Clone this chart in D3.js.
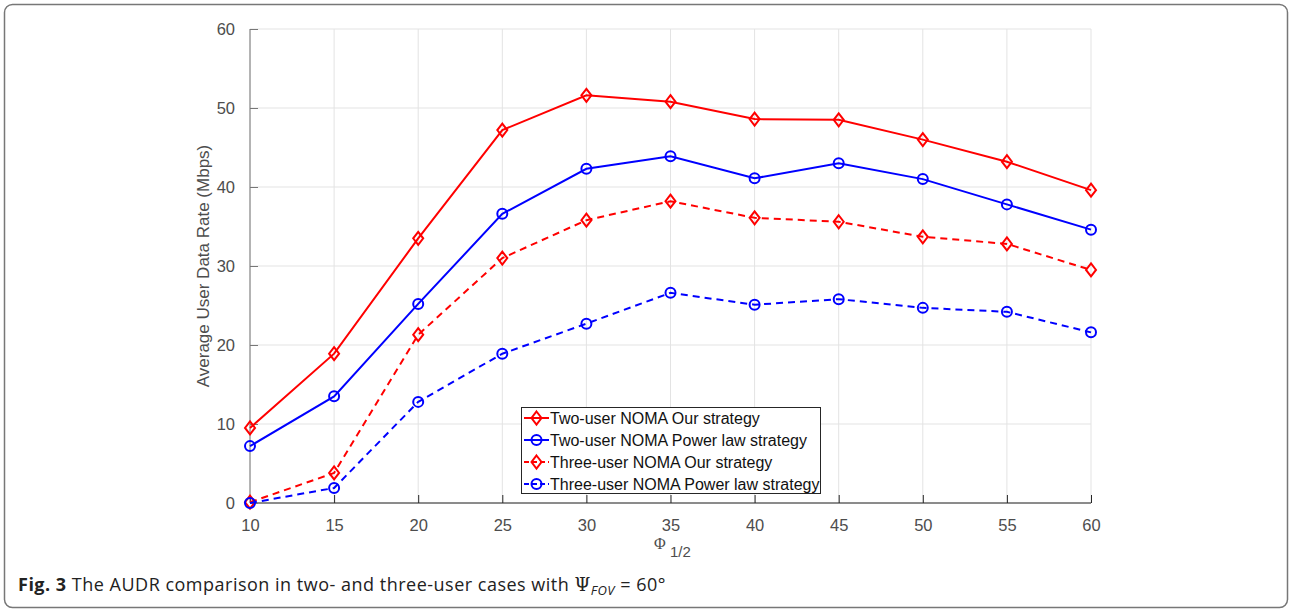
<!DOCTYPE html>
<html lang="en">
<head>
<meta charset="UTF-8">
<title>AUDR comparison</title>
<script src="https://d3js.org/d3.v7.min.js"></script>
<style>
  body { margin: 0; background: #fff; }
  .tick text { font-family: "Liberation Sans", Arial, sans-serif; font-size: 16.5px; fill: #4d4d4d; }
  .grid line { stroke: #e3e3e3; }
  .legend text { font-family: "Liberation Sans", Arial, sans-serif; font-size: 16px; fill: #111; }
</style>
</head>
<body>
<svg width="1291" height="610"></svg>
<script>
// data
const phi = [10, 15, 20, 25, 30, 35, 40, 45, 50, 55, 60];
const twoOur   = [9.5, 18.9, 33.5, 47.2, 51.6, 50.8, 48.6, 48.5, 46.0, 43.2, 39.6];
const twoPower = [7.2, 13.5, 25.2, 36.6, 42.3, 43.9, 41.1, 43.0, 41.0, 37.8, 34.6];
const threeOur   = [0.1, 3.8, 21.3, 31.0, 35.8, 38.2, 36.1, 35.6, 33.7, 32.8, 29.5];
const threePower = [0.0, 1.9, 12.8, 18.9, 22.7, 26.6, 25.1, 25.8, 24.7, 24.2, 21.6];
const yTicks = [0, 10, 20, 30, 40, 50, 60];

const series = [
  { name: "Two-user NOMA Our strategy", values: twoOur, color: "#ff0000", dash: null, marker: "diamond" },
  { name: "Two-user NOMA Power law strategy", values: twoPower, color: "#0000ff", dash: null, marker: "circle" },
  { name: "Three-user NOMA Our strategy", values: threeOur, color: "#ff0000", dash: "7,5", marker: "diamond" },
  { name: "Three-user NOMA Power law strategy", values: threePower, color: "#0000ff", dash: "7,5", marker: "circle" }
];

const svg = d3.select("svg");

// outer frame
svg.append("rect")
   .attr("x", 4.5).attr("y", 4.5)
   .attr("width", 1283).attr("height", 603)
   .attr("rx", 8)
   .attr("fill", "none")
   .attr("stroke", "#777")
   .attr("stroke-width", 1.5);

const pl = 250, pr = 1091, pt = 29, pb = 503;
const x = d3.scaleLinear().domain([10, 60]).range([pl, pr]);
const y = d3.scaleLinear().domain([0, 60]).range([pb, pt]);

// grid
const grid = svg.append("g").attr("class", "grid");
grid.selectAll(".vg").data(phi).enter().append("line")
    .attr("x1", d => x(d)).attr("x2", d => x(d))
    .attr("y1", pt).attr("y2", pb);
grid.selectAll(".hg").data(yTicks).enter().append("line")
    .attr("x1", pl).attr("x2", pr)
    .attr("y1", d => y(d)).attr("y2", d => y(d));

// axes, ticks pointing inward
const xAxis = svg.append("g")
   .attr("transform", `translate(0,${pb})`)
   .call(d3.axisBottom(x).tickValues(phi).tickSize(-8).tickPadding(16).tickFormat(d3.format("d")));
xAxis.select(".domain").attr("stroke", "#262626").attr("d", `M${pl},0H${pr}`);
xAxis.selectAll(".tick line").attr("stroke", "#262626");

const yAxis = svg.append("g")
   .attr("transform", `translate(${pl},0)`)
   .call(d3.axisLeft(y).tickValues(yTicks).tickSize(-8).tickPadding(15).tickFormat(d3.format("d")));
yAxis.select(".domain").attr("stroke", "#777").attr("d", `M0,${pt}V${pb}`);
yAxis.selectAll(".tick line").attr("stroke", "#777");

// axis titles
svg.append("text")
   .attr("transform", `translate(209,${(pt + pb) / 2}) rotate(-90)`)
   .attr("text-anchor", "middle")
   .style("font-family", "Liberation Sans, Arial, sans-serif")
   .style("font-size", "17px").attr("fill", "#4d4d4d")
   .text("Average User Data Rate (Mbps)");

svg.append("text")
   .attr("x", 654).attr("y", 549)
   .style("font-family", "Liberation Serif, serif")
   .style("font-size", "16px").attr("fill", "#4d4d4d")
   .text("Φ");
svg.append("text")
   .attr("x", 670).attr("y", 557)
   .style("font-family", "Liberation Sans, Arial, sans-serif")
   .style("font-size", "15px").attr("fill", "#4d4d4d")
   .text("1/2");

// lines and markers
const line = d3.line().x((d, i) => x(phi[i])).y(d => y(d));

function drawMarker(g, type, cx, cy, color) {
  if (type === "circle") {
    g.append("circle").attr("cx", cx).attr("cy", cy).attr("r", 5)
     .attr("fill", "none").attr("stroke", color).attr("stroke-width", 2);
  } else {
    g.append("path")
     .attr("d", `M${cx},${cy - 6.5}L${cx + 5},${cy}L${cx},${cy + 6.5}L${cx - 5},${cy}Z`)
     .attr("fill", "none").attr("stroke", color).attr("stroke-width", 2);
  }
}

series.forEach(s => {
  const g = svg.append("g");
  g.append("path").datum(s.values)
   .attr("d", line)
   .attr("fill", "none")
   .attr("stroke", s.color)
   .attr("stroke-width", 2)
   .attr("stroke-dasharray", s.dash);
  s.values.forEach((v, i) => drawMarker(g, s.marker, x(phi[i]), y(v), s.color));
});

// legend
const leg = svg.append("g").attr("class", "legend");
leg.append("rect")
   .attr("x", 521.5).attr("y", 407.5).attr("width", 299).attr("height", 86)
   .attr("fill", "#fff").attr("stroke", "#262626").attr("stroke-width", 1);
series.forEach((s, i) => {
  const ly = 418 + i * 22;
  leg.append("line").attr("x1", 524).attr("x2", 549).attr("y1", ly).attr("y2", ly)
     .attr("stroke", s.color).attr("stroke-width", 2)
     .attr("stroke-dasharray", s.dash ? "5,3" : null);
  drawMarker(leg, s.marker, 536.5, ly, s.color);
  leg.append("text").attr("x", 550).attr("y", ly + 6).text(s.name);
});

// caption
const cap = svg.append("text")
   .attr("x", 18).attr("y", 591)
   .style("font-family", "Open Sans, sans-serif")
   .style("font-size", "18px").style("letter-spacing", "0.5px").attr("fill", "#222");
cap.append("tspan").attr("font-weight", "bold").text("Fig. 3");
cap.append("tspan").text(" The AUDR comparison in two- and three-user cases with ");
cap.append("tspan").style("font-family", "DejaVu Serif, serif").text("Ψ");
cap.append("tspan").attr("dy", 4).style("font-size", "13px").style("font-style", "italic").text("FOV");
cap.append("tspan").attr("dy", -4).text(" = 60°");
</script>
</body>
</html>
